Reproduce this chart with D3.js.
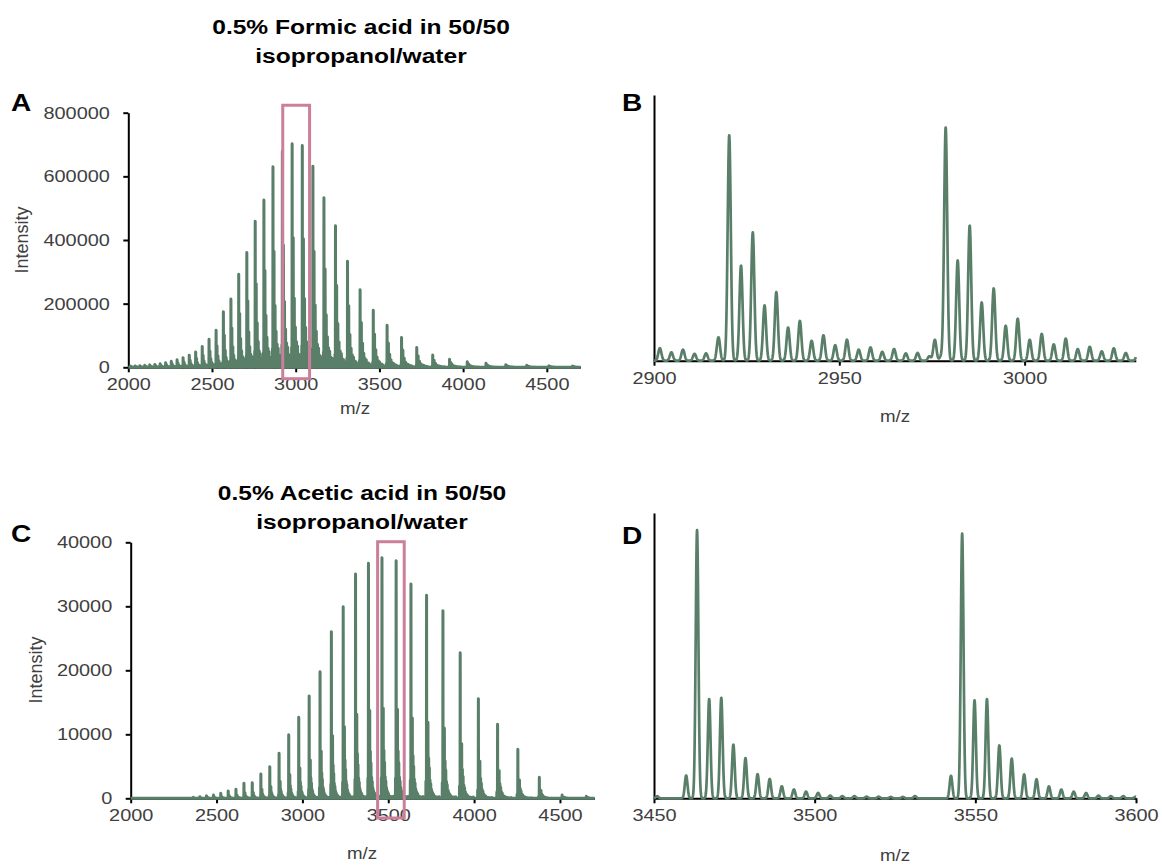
<!DOCTYPE html>
<html>
<head>
<meta charset="utf-8">
<script src="https://cdn.jsdelivr.net/npm/d3@7"></script>
<style>
  body { margin: 0; background: #fff; }
  svg text { font-family: "Liberation Sans", Arial, sans-serif; }
</style>
</head>
<body>
<svg id="fig" width="1162" height="865"></svg>
<script>
// ---------------- data ----------------
// Charge-state envelope, 0.5% formic acid (m/z of the main glycoform, apex intensity)
const chargeFormic = [74,73,72,71,70,69,68,67,66,65,64,63,62,61,60,59,58,57,56,55,54,53,52,51,50,49,48,47,46,45,44,43,42,41,40,39,38,37,36,35,34,33,32];
const mzFormic = [2012.9,2040.5,2068.8,2098.0,2127.9,2158.7,2190.5,2223.1,2256.8,2291.5,2327.3,2364.2,2402.4,2441.7,2482.4,2524.5,2568.0,2613.0,2659.6,2708.0,2758.1,2810.1,2864.2,2920.3,2978.7,3039.4,3102.8,3168.7,3237.6,3309.5,3384.7,3463.4,3545.9,3632.3,3723.1,3818.5,3919.0,4024.9,4136.7,4254.8,4379.9,4512.6,4653.6];
const intFormic = [3500,4200,5000,6000,7500,9000,11000,14000,18000,23000,30000,38000,47000,64000,88000,116000,172000,210000,292000,360000,452000,525000,629000,666000,702000,697000,632000,533000,445000,333000,244000,179000,132000,94000,62500,38400,25000,17500,12500,8000,6000,4500,3500];

// Charge-state envelope, 0.5% acetic acid
const chargeAcetic = [63,62,61,60,59,58,57,56,55,54,53,52,51,50,49,48,47,46,45,44,43,42,41,40,39,38,37,36,35,34,33,32];
const mzAcetic = [2364.2,2402.4,2441.7,2482.4,2524.5,2568.0,2613.0,2659.6,2708.0,2758.1,2810.1,2864.2,2920.3,2978.7,3039.4,3102.8,3168.7,3237.6,3309.5,3384.7,3463.4,3545.9,3632.3,3723.1,3818.5,3919.0,4024.9,4136.7,4254.8,4379.9,4512.6,4653.6];
const intAcetic = [150,250,380,520,780,1140,1400,2340,2440,3800,4940,7030,9890,12650,15980,19780,26030,29940,35050,36720,37600,37100,33480,31720,29310,22750,15560,11560,7650,3280,520,300];

// Glycoform / adduct series within each charge state (mass shift in Da, relative height)
const shiftDa = [-146,0,162,324,486,648,810,972,1134,1296,1458,1620,1782,1944,2106,2268,2430,2592,2754,2916];
const relFormic = [0.09,1,0.43,0.58,0.25,0.31,0.15,0.18,0.09,0.115,0.07,0.095,0.05,0.06,0.04,0.053,0.033,0.035,0.02,0.02];
const relAcetic = [0.085,1,0.37,0.375,0.2,0.15,0.09,0.072,0.045,0.033,0.025,0.02,0.01,0.008,0.008,0.006,0.006,0.005,0.005,0.008];

// Axis ticks
const ticksFullMz = [2000,2500,3000,3500,4000,4500];
const ticksFormicInt = [0,200000,400000,600000,800000];
const ticksAceticInt = [0,10000,20000,30000,40000];
const ticksZoomFormic = [2900,2950,3000];
const ticksZoomAcetic = [3450,3500,3550,3600];

// Highlighted windows on the full spectra (m/z range, intensity range)
const boxFormicMz = [2922.6,3082.8], boxFormicInt = [-35800,823400];
const boxAceticMz = [3438,3593], boxAceticInt = [-3080,40090];

// ---------------- drawing ----------------
const GREEN = "#5a7f69";
const PINK = "#cc7f9a";
const TICK_COLOR = "#404040";
const PEAK_SIGMA = 0.42;  // m/z
const WIDEN = 1.17;       // horizontal stretch of the lettering

const svg = d3.select("#fig");

function spectrum(lo, hi, step, charges, mzs, ints, rel) {
  const n = Math.round((hi - lo) / step) + 1;
  const v = new Float64Array(n);
  for (let i = 0; i < charges.length; i++) {
    for (let k = 0; k < shiftDa.length; k++) {
      const c = mzs[i] + shiftDa[k] / charges[i];
      const h = ints[i] * rel[k];
      if (c < lo - 3 || c > hi + 3) continue;
      const j0 = Math.max(0, Math.floor((c - 5 * PEAK_SIGMA - lo) / step));
      const j1 = Math.min(n - 1, Math.ceil((c + 5 * PEAK_SIGMA - lo) / step));
      for (let j = j0; j <= j1; j++) {
        const d = (lo + j * step - c) / PEAK_SIGMA;
        v[j] += h * Math.exp(-0.5 * d * d);
      }
    }
  }
  return Array.from(v, (y, j) => [lo + j * step, y]);
}

// text placed at (x, y), widened horizontally
function label(g, x, y, txt, size, opts = {}) {
  return g.append("text")
    .attr("transform", `translate(${x},${y}) scale(${WIDEN},1)`)
    .attr("text-anchor", opts.anchor || "start")
    .attr("fill", opts.fill || "#000")
    .style("font-size", size + "px")
    .style("font-weight", opts.bold ? "bold" : "normal")
    .text(txt);
}

function panel(cfg) {
  const g = svg.append("g");
  const x = d3.scaleLinear().domain(cfg.xDomain).range(cfg.xRange);
  const y = d3.scaleLinear().domain(cfg.yDomain).range(cfg.yRange);

  // x axis
  const xa = g.append("g")
    .attr("transform", `translate(0,${cfg.yRange[0]})`)
    .call(d3.axisBottom(x).tickValues(cfg.xTicks).tickFormat(d3.format("d"))
      .tickSize(5).tickSizeOuter(0).tickPadding(6));
  // y axis
  const ya = g.append("g")
    .attr("transform", `translate(${cfg.xRange[0]},0)`)
    .call(d3.axisLeft(y).tickValues(cfg.yTicks).tickFormat(d3.format("d"))
      .tickSize(5).tickSizeOuter(0).tickPadding(10.8));
  [xa, ya].forEach(a => {
    a.select(".domain").attr("stroke", "#000").attr("stroke-width", 2);
    a.selectAll(".tick line").attr("stroke", "#000").attr("stroke-width", 2);
    a.selectAll(".tick text").attr("fill", TICK_COLOR).style("font-size", "17px")
      .attr("transform", `scale(${WIDEN},1)`);
  });

  // spectrum trace
  const data = spectrum(cfg.xDomain[0], cfg.xDomain[1], cfg.step,
    cfg.charges, cfg.mzs, cfg.ints, cfg.rel);
  g.append("path")
    .datum(data)
    .attr("fill", "none")
    .attr("stroke", GREEN)
    .attr("stroke-width", cfg.lineWidth)
    .attr("stroke-linejoin", "round")
    .attr("d", d3.line().x(d => x(d[0])).y(d => y(d[1])));

  // highlight window
  if (cfg.boxMz) {
    g.append("rect")
      .attr("x", x(cfg.boxMz[0]))
      .attr("y", y(cfg.boxInt[1]))
      .attr("width", x(cfg.boxMz[1]) - x(cfg.boxMz[0]))
      .attr("height", y(cfg.boxInt[0]) - y(cfg.boxInt[1]))
      .attr("fill", "none").attr("stroke", PINK).attr("stroke-width", 3);
  }

  // axis titles
  label(g, cfg.xTitle[0], cfg.xTitle[1], "m/z", 16, { anchor: "middle", fill: TICK_COLOR });
  if (cfg.yTitle) {
    g.append("text")
      .attr("transform", `translate(${cfg.yTitle[0]},${cfg.yTitle[1]}) rotate(-90)`)
      .attr("text-anchor", "middle").attr("fill", TICK_COLOR)
      .style("font-size", "18px").text("Intensity");
  }
  // panel letter
  label(g, cfg.letterPos[0], cfg.letterPos[1], cfg.letter, 24, { bold: true });
  // title
  if (cfg.title) {
    cfg.title.forEach((line, i) => {
      label(g, cfg.titlePos[0], cfg.titlePos[1] + i * 29, line, 21, { anchor: "middle", bold: true });
    });
  }
}

panel({
  letter: "A", letterPos: [11, 111],
  title: ["0.5% Formic acid in 50/50", "isopropanol/water"], titlePos: [361, 34],
  xDomain: [2000, 4700], xRange: [128.3, 580.3],
  yDomain: [0, 800000], yRange: [367.3, 112.7],
  xTicks: ticksFullMz, yTicks: ticksFormicInt, step: 0.1, lineWidth: 3,
  charges: chargeFormic, mzs: mzFormic, ints: intFormic, rel: relFormic,
  boxMz: boxFormicMz, boxInt: boxFormicInt,
  xTitle: [355, 414], yTitle: [28, 240]
});

panel({
  letter: "B", letterPos: [622, 111],
  xDomain: [2900, 3030], xRange: [654, 1135.8],
  yDomain: [0, 800000], yRange: [360.7, 95],
  xTicks: ticksZoomFormic, yTicks: [], step: 0.05, lineWidth: 2.7,
  charges: chargeFormic, mzs: mzFormic, ints: intFormic, rel: relFormic,
  xTitle: [895, 422]
});

panel({
  letter: "C", letterPos: [11, 542],
  title: ["0.5% Acetic acid in 50/50", "isopropanol/water"], titlePos: [362, 500],
  xDomain: [2000, 4700], xRange: [130.7, 594.3],
  yDomain: [0, 40000], yRange: [798.3, 542.3],
  xTicks: ticksFullMz, yTicks: ticksAceticInt, step: 0.1, lineWidth: 3,
  charges: chargeAcetic, mzs: mzAcetic, ints: intAcetic, rel: relAcetic,
  boxMz: boxAceticMz, boxInt: boxAceticInt,
  xTitle: [362, 859], yTitle: [42, 670]
});

panel({
  letter: "D", letterPos: [622, 544],
  xDomain: [3450, 3600], xRange: [654, 1136],
  yDomain: [0, 40000], yRange: [798.3, 513],
  xTicks: ticksZoomAcetic, yTicks: [], step: 0.05, lineWidth: 2.7,
  charges: chargeAcetic, mzs: mzAcetic, ints: intAcetic, rel: relAcetic,
  xTitle: [895, 861]
});
</script>
</body>
</html>
